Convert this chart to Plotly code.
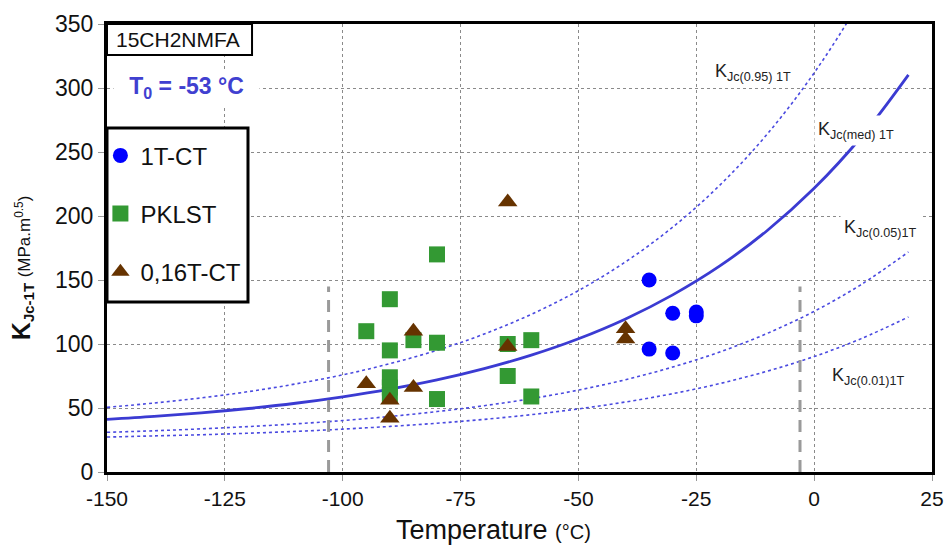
import plotly.graph_objects as go

# ---------------- data ----------------
t_1tct = [-35, -35, -30, -30, -25, -25]
k_1tct = [150, 96, 124, 93, 125, 122]

t_pklst = [-95, -90, -90, -90, -90, -90, -85, -80, -80, -80, -65, -65, -60, -60]
k_pklst = [110, 135, 95, 74, 66, 60, 103, 101, 170, 57, 100, 75, 103, 59]

t_016 = [-95, -90, -90, -85, -85, -65, -65, -40, -40]
k_016 = [69, 56, 42, 110, 66, 98, 211, 112, 104]

# master curve and tolerance bounds read along the temperature axis
t_curve = [-150, -140, -130, -120, -110, -100, -90, -80, -70, -60,
           -50, -40, -30, -20, -10, 0, 10, 20]
k_med = [41.1, 43.4, 46.2, 49.6, 53.7, 58.7, 64.7, 71.9, 80.7, 91.3,
         104.1, 119.6, 138.4, 161.0, 188.5, 221.6, 261.7, 310.2]
k_p95 = [50.5, 53.9, 57.9, 62.8, 68.8, 75.9, 84.6, 95.1, 107.8, 123.2,
         141.7, 164.2, 191.3, 224.1, 263.8, 311.8, 369.8, 440.0]
k_p05 = [31.0, 32.2, 33.7, 35.5, 37.6, 40.2, 43.4, 47.2, 51.8, 57.3,
         64.0, 72.1, 82.0, 93.8, 108.2, 125.5, 146.5, 171.9]
k_p01 = [27.3, 28.2, 29.1, 30.3, 31.7, 33.5, 35.6, 38.1, 41.1, 44.8,
         49.3, 54.7, 61.2, 69.1, 78.7, 90.2, 104.2, 121.1]

# validity limits T0 +/- 50
t_limits = [-103, -3]
k_limit_span = [0, 145]

x_ticks = [-150, -125, -100, -75, -50, -25, 0, 25]
y_ticks = [0, 50, 100, 150, 200, 250, 300, 350]

FONT = "Arial, Liberation Sans, sans-serif"
CURVE = "#3B3BD2"
DOTC = "#4A4AE0"

fig = go.Figure()

# curves
for kk in (k_p95, k_p05, k_p01):
    fig.add_trace(go.Scatter(x=t_curve, y=kk, mode="lines", showlegend=False,
                             line=dict(color=DOTC, width=1.6, dash="dot", shape="spline"),
                             hoverinfo="skip"))
fig.add_trace(go.Scatter(x=t_curve, y=k_med, mode="lines", showlegend=False,
                         line=dict(color=CURVE, width=2.8, shape="spline"),
                         hoverinfo="skip"))

# validity limit dashed lines
for tl in t_limits:
    fig.add_trace(go.Scatter(x=[tl, tl], y=k_limit_span, mode="lines", showlegend=False,
                             line=dict(color="#9A9A9A", width=3, dash="12px,8px"),
                             hoverinfo="skip"))

# data
fig.add_trace(go.Scatter(x=t_1tct, y=k_1tct, mode="markers", name="1T-CT",
                         legendgroup="a",
                         marker=dict(symbol="circle", size=15, color="#0000FF")))
fig.add_trace(go.Scatter(x=t_pklst, y=k_pklst, mode="markers", name="PKLST",
                         legendgroup="b",
                         marker=dict(symbol="square", size=16, color="#339933")))
fig.add_trace(go.Scatter(x=t_016, y=k_016, mode="markers", name="0,16T-CT",
                         legendgroup="c",
                         marker=dict(symbol="triangle-up", size=17, color="#663300")))

# boxes (paper coords)
fig.add_shape(type="rect", xref="paper", yref="paper", x0=0, x1=0.1758, y0=0.9308, y1=1.0,
              line=dict(color="black", width=2), fillcolor="white", layer="above")
fig.add_shape(type="rect", xref="paper", yref="paper", x0=0, x1=0.1709, y0=0.3795, y1=0.768,
              line=dict(color="black", width=3), fillcolor="white", layer="above")

annots = [
    dict(xref="paper", yref="paper", x=0.008, y=0.965, xanchor="left", yanchor="middle",
         text="15CH2NMFA", showarrow=False, font=dict(size=21, color="#111", family=FONT)),
    dict(xref="paper", yref="paper", x=0.0958, y=0.859, xanchor="center", yanchor="middle",
         text="<b>T<sub>0</sub> = -53 °C</b>", showarrow=False, bgcolor="white",
         width=143, height=33,
         font=dict(size=23, color="#4040D0", family=FONT)),
    dict(x=-21.5, y=312.5, xanchor="left", yanchor="middle",
         text="K<sub>Jc(0.95) 1T</sub>", showarrow=False, bgcolor="white",
         font=dict(size=18, color="#222", family=FONT)),
    dict(x=0.0, y=267, xanchor="left", yanchor="middle",
         text="K<sub>Jc(med) 1T</sub>", showarrow=False, bgcolor="white", borderpad=3,
         font=dict(size=18, color="#222", family=FONT)),
    dict(x=5.5, y=190, xanchor="left", yanchor="middle",
         text="K<sub>Jc(0.05)1T</sub>", showarrow=False, bgcolor="white", borderpad=3,
         font=dict(size=18, color="#222", family=FONT)),
    dict(x=3.4, y=75, xanchor="left", yanchor="middle",
         text="K<sub>Jc(0.01)1T</sub>", showarrow=False, bgcolor="white",
         font=dict(size=18, color="#222", family=FONT)),
    # axis titles
    dict(xref="paper", yref="paper", x=0.4685, y=-0.129, xanchor="center", yanchor="middle",
         text="Temperature <span style='font-size:20px'>(°C)</span>", showarrow=False,
         font=dict(size=27, color="#111", family=FONT)),
    dict(xref="paper", yref="paper", x=-0.103, y=0.455, xanchor="center", yanchor="middle",
         textangle=-90,
         text=("<b><span style='font-size:25px'>K</span>"
               "<sub><span style='font-size:15px'>Jc-1T</span></sub></b>"
               " <span style='font-size:17px'>(MPa.m<sup>0.5</sup>)</span>"),
         showarrow=False, font=dict(size=20, color="#111", family=FONT)),
]

fig.update_layout(
    annotations=annots,
    width=944, height=545,
    margin=dict(l=107, r=12, t=24, b=73, autoexpand=False),
    paper_bgcolor="white", plot_bgcolor="white",
    font=dict(family=FONT, color="#111"),
    showlegend=True,
    legend=dict(x=-0.008, y=0.756, xanchor="left", yanchor="top",
                bgcolor="rgba(0,0,0,0)", borderwidth=0,
                font=dict(size=24, family=FONT, color="#111"),
                traceorder="grouped", tracegroupgap=24, itemwidth=30),
    xaxis=dict(range=[-150, 25], tickvals=x_ticks, ticktext=[str(v) for v in x_ticks],
               automargin=False, ticklabeloverflow="allow",
               showgrid=True, gridcolor="#8A8A8A", griddash="dot", gridwidth=1,
               showline=True, mirror=True, linecolor="black", linewidth=3,
               ticks="outside", ticklen=6, tickcolor="#999",
               tickfont=dict(size=21, family=FONT, color="#111"), zeroline=False),
    yaxis=dict(range=[0, 350], tickvals=y_ticks, ticktext=[str(v) for v in y_ticks],
               automargin=False,
               showgrid=True, gridcolor="#8A8A8A", griddash="dot", gridwidth=1,
               showline=True, mirror=True, linecolor="black", linewidth=3,
               ticks="outside", ticklen=6, tickcolor="#999",
               tickfont=dict(size=23, family=FONT, color="#111"), zeroline=False),
)

# remove the default page margin so the figure sits at the window's top-left corner
fig.write_html("out.html", config={"displayModeBar": False},
               post_script="document.body.style.margin='0';document.body.style.overflow='hidden';")
